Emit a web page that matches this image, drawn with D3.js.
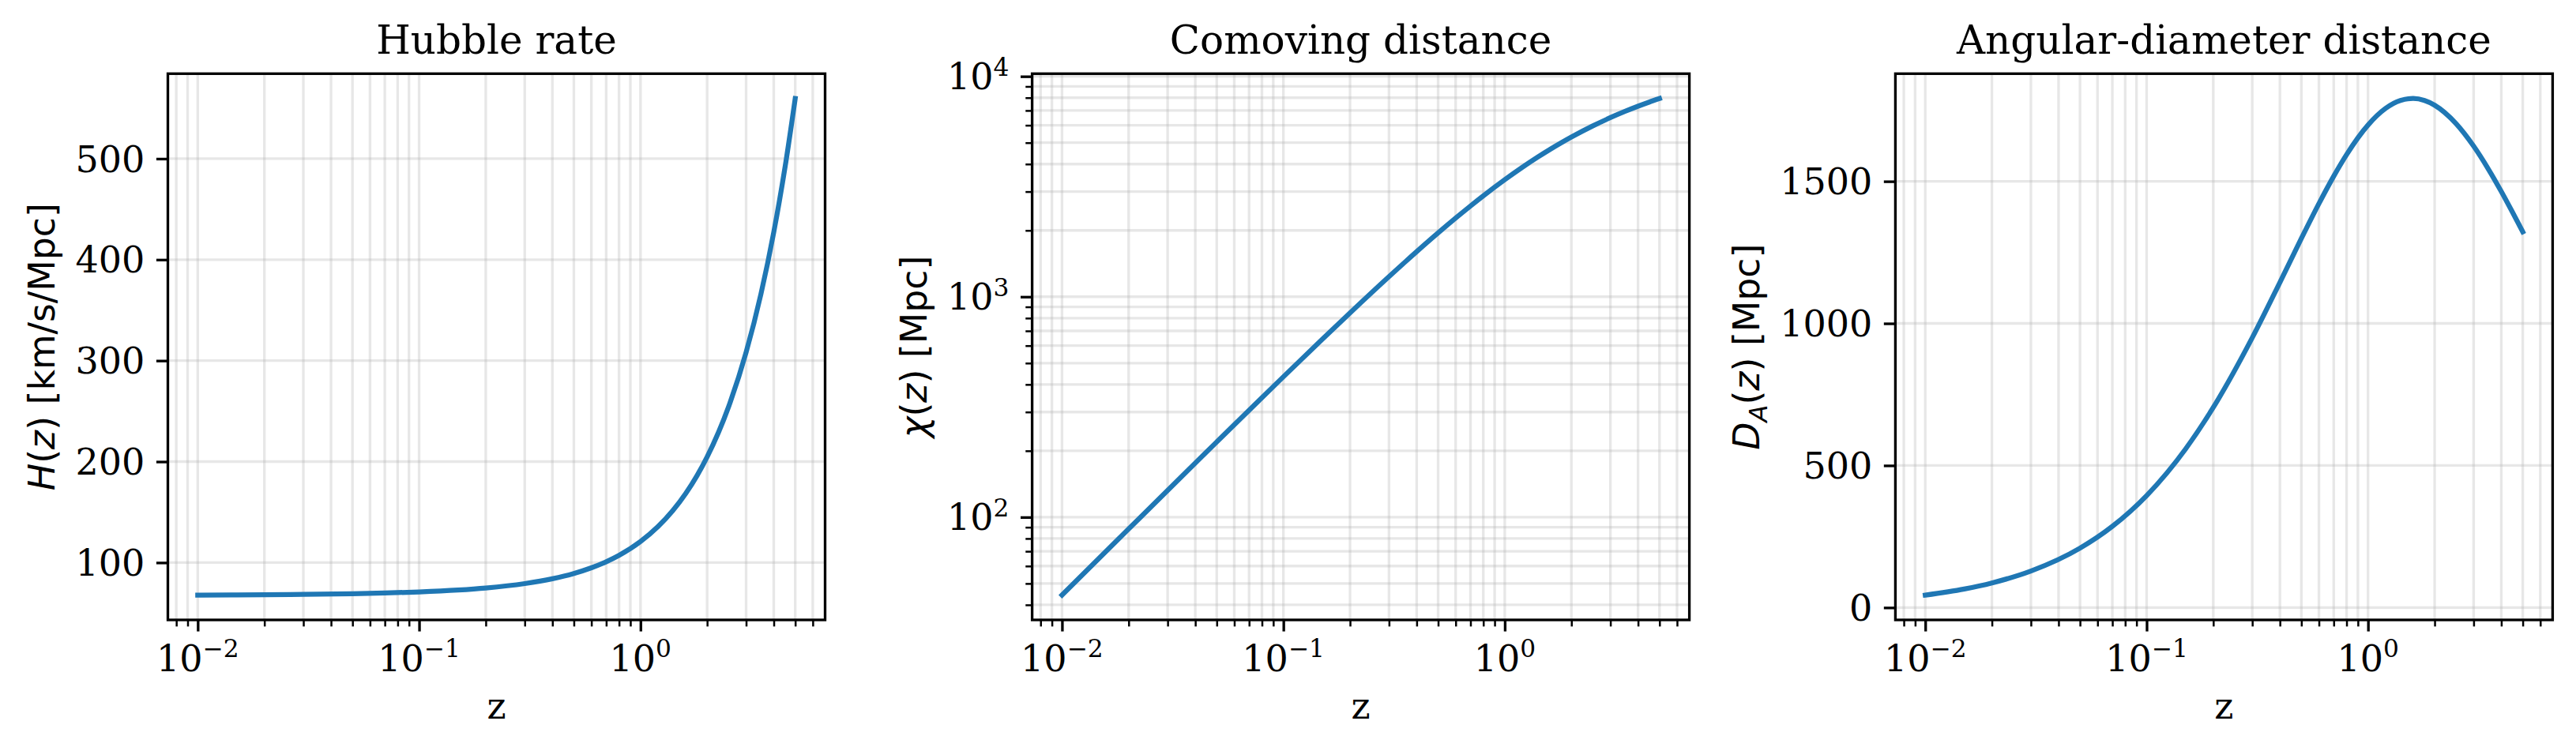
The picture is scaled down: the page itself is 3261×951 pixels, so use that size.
<!DOCTYPE html>
<html><head><meta charset="utf-8">
<script src="https://cdn.jsdelivr.net/npm/d3@7"></script>
<style>body{margin:0;background:#fff} svg{display:block}</style>
</head><body>
<svg id="chart" width="3261" height="951"></svg>
<script>
// ---- data ----
const z = [0.01, 0.015, 0.02, 0.03, 0.05, 0.07, 0.1, 0.15, 0.2, 0.3, 0.4, 0.5, 0.6, 0.7, 0.8, 1.0, 1.2, 1.4, 1.6, 1.8, 2.0, 2.5, 3.0, 3.5, 4.0, 4.5, 5.0];
const hubbleRate = [67.82, 67.98, 68.15, 68.48, 69.16, 69.85, 70.93, 72.83, 74.84, 79.21, 84.02, 89.25, 94.87, 100.86, 107.20, 120.84, 135.66, 151.53, 168.36, 186.08, 204.63, 254.28, 308.18, 365.93, 427.23, 491.84, 559.58];
const comovingDistance = [44.3, 66.4, 88.4, 132.3, 219.4, 305.7, 433.4, 642.0, 845.0, 1234.5, 1602.1, 1948.3, 2274.2, 2580.7, 2869.0, 3395.9, 3864.3, 4282.5, 4657.8, 4996.5, 5303.8, 5960.6, 6495.9, 6942.1, 7321.1, 7648.0, 7933.6];
const angularDistance = [43.9, 65.4, 86.7, 128.4, 209.0, 285.7, 394.0, 558.3, 704.2, 949.6, 1144.4, 1298.9, 1421.4, 1518.1, 1593.9, 1698.0, 1756.5, 1784.4, 1791.5, 1784.5, 1767.9, 1703.0, 1624.0, 1542.7, 1464.2, 1390.5, 1322.3];

const xTickValues = [0.01, 0.1, 1];
const xTickExponents = ["\u22122", "\u22121", "0"];
const hubbleTicks = [100, 200, 300, 400, 500];
const comovingTicks = [100, 1000, 10000];
const comovingExponents = ["2", "3", "4"];
const angularTicks = [0, 500, 1000, 1500];
const titles = ["Hubble rate", "Comoving distance", "Angular-diameter distance"];

// ---- layout ----
const svg = d3.select("#chart");
const lefts = [212.5, 1306.6, 2399.4];
const top0 = 93.3, W = 832, H = 691.7;
const serif = "DejaVu Serif", sans = "DejaVu Sans";
const tickFS = 46, labelFS = 45.8, titleFS = 50;
const majorLen = 14.58, minorLen = 8.33, pad = 14.6;
const blue = "#1f77b4";

function padLin(ext) { const r = ext[1] - ext[0]; return [ext[0] - 0.05 * r, ext[1] + 0.05 * r]; }
function padLog(ext) {
  const a = Math.log10(ext[0]), b = Math.log10(ext[1]), r = b - a;
  return [Math.pow(10, a - 0.05 * r), Math.pow(10, b + 0.05 * r)];
}
const isPow10 = d => Math.abs(Math.log10(d) - Math.round(Math.log10(d))) < 1e-9;

const panels = [
  { values: hubbleRate, log: false, ticks: hubbleTicks, ylabel: "H" },
  { values: comovingDistance, log: true, ticks: comovingTicks, exps: comovingExponents, ylabel: "chi" },
  { values: angularDistance, log: false, ticks: angularTicks, ylabel: "DA" }
];

panels.forEach((p, i) => {
  const g = svg.append("g").attr("transform", `translate(${lefts[i]},${top0})`);
  const x = d3.scaleLog().domain(padLog(d3.extent(z))).range([0, W]);
  const y = p.log
    ? d3.scaleLog().domain(padLog(d3.extent(p.values))).range([H, 0])
    : d3.scaleLinear().domain(padLin(d3.extent(p.values))).range([H, 0]);

  const xAll = x.ticks();
  const xMinor = xAll.filter(d => !isPow10(d));
  const yAll = p.log ? y.ticks() : p.ticks;
  const yMinor = p.log ? yAll.filter(d => !isPow10(d)) : [];

  // grid
  const grid = g.append("g").attr("stroke", "#b0b0b0").attr("stroke-opacity", 0.3).attr("stroke-width", 3.33);
  grid.selectAll(".gx").data(xAll).join("line").attr("class", "gx")
    .attr("x1", d => x(d)).attr("x2", d => x(d)).attr("y1", 0).attr("y2", H);
  grid.selectAll(".gy").data(yAll).join("line").attr("class", "gy")
    .attr("y1", d => y(d)).attr("y2", d => y(d)).attr("x1", 0).attr("x2", W);

  // line
  const line = d3.line().x(d => x(d[0])).y(d => y(d[1])).curve(d3.curveMonotoneX);
  g.append("path").datum(z.map((zz, k) => [zz, p.values[k]]))
    .attr("d", line).attr("fill", "none").attr("stroke", blue)
    .attr("stroke-width", 6.25).attr("stroke-linecap", "square").attr("stroke-linejoin", "round");

  // axes ticks
  const styleAxis = (sel, w) => { sel.select(".domain").remove(); sel.selectAll("line").attr("stroke", "#000").attr("stroke-width", w); };
  g.append("g").attr("transform", `translate(0,${H})`)
    .call(d3.axisBottom(x).tickValues(xTickValues).tickSize(majorLen).tickFormat(""))
    .call(s => styleAxis(s, 3.33));
  g.append("g").attr("transform", `translate(0,${H})`)
    .call(d3.axisBottom(x).tickValues(xMinor).tickSize(minorLen).tickFormat(""))
    .call(s => styleAxis(s, 2.5));
  g.append("g")
    .call(d3.axisLeft(y).tickValues(p.ticks).tickSize(majorLen).tickFormat(""))
    .call(s => styleAxis(s, 3.33));
  if (yMinor.length) {
    g.append("g")
      .call(d3.axisLeft(y).tickValues(yMinor).tickSize(minorLen).tickFormat(""))
      .call(s => styleAxis(s, 2.5));
  }

  // spines
  g.append("rect").attr("x", 0).attr("y", 0).attr("width", W).attr("height", H)
    .attr("fill", "none").attr("stroke", "#000").attr("stroke-width", 3.33);

  // x tick labels
  const xl = g.append("g").attr("font-family", serif).attr("font-size", tickFS).attr("fill", "#000");
  xTickValues.forEach((v, k) => {
    const t = xl.append("text").attr("x", x(v)).attr("y", H + 65).attr("text-anchor", "middle");
    t.append("tspan").text("10");
    t.append("tspan").attr("font-size", tickFS * 0.68).attr("dy", -18).text(xTickExponents[k]);
  });

  // y tick labels
  const yl = g.append("g").attr("font-family", serif).attr("font-size", tickFS).attr("fill", "#000");
  p.ticks.forEach((v, k) => {
    const t = yl.append("text").attr("x", -(majorLen + pad)).attr("y", y(v) + 16.6).attr("text-anchor", "end");
    if (p.log) {
      t.append("tspan").text("10");
      t.append("tspan").attr("font-size", tickFS * 0.68).attr("dy", -17.5).text(p.exps[k]);
    } else {
      t.text(String(v));
    }
  });

  // title
  g.append("text").attr("x", W / 2).attr("y", -25).attr("text-anchor", "middle")
    .attr("font-family", serif).attr("font-size", titleFS).text(titles[i]);

  // x label
  g.append("text").attr("x", W / 2).attr("y", 910 - top0).attr("text-anchor", "middle")
    .attr("font-family", serif).attr("font-size", labelFS).text("z");

  // y label
  const bb = yl.node().getBBox();
  const lx = bb.x - 16.7 - 9.5;
  const t = g.append("text").attr("transform", `translate(${lx},${H / 2}) rotate(-90)`)
    .attr("text-anchor", "middle").attr("font-family", sans).attr("font-size", labelFS);
  if (p.ylabel === "H") {
    t.append("tspan").attr("font-style", "italic").text("H");
    t.append("tspan").text("(");
    t.append("tspan").attr("font-style", "italic").text("z");
    t.append("tspan").text(") [km/s/Mpc]");
  } else if (p.ylabel === "chi") {
    t.append("tspan").attr("font-style", "italic").text("\u03C7");
    t.append("tspan").text("(");
    t.append("tspan").attr("font-style", "italic").text("z");
    t.append("tspan").text(") [Mpc]");
  } else {
    t.append("tspan").attr("font-style", "italic").text("D");
    t.append("tspan").attr("font-style", "italic").attr("font-size", labelFS * 0.7).attr("dy", 10).text("A");
    t.append("tspan").attr("dy", -10).text("(");
    t.append("tspan").attr("font-style", "italic").text("z");
    t.append("tspan").text(") [Mpc]");
  }
});
</script>
</body></html>
